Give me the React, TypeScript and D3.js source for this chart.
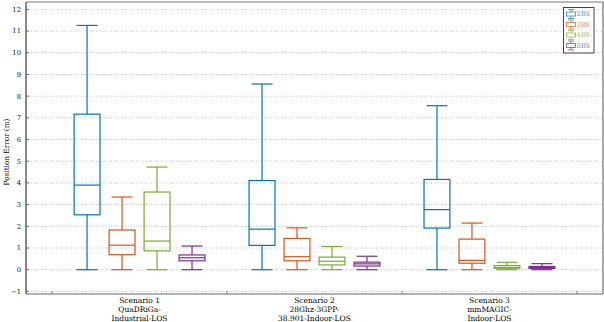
import React from "react";
import * as d3 from "d3";

const W = 604;
const H = 322;

const categoryLines: string[][] = [
  ["Scenario 1", "QuaDRiGa-", "Industrial-LOS"],
  ["Scenario 2", "28Ghz-3GPP-", "38.901-Indoor-LOS"],
  ["Scenario 3", "mmMAGIC-", "Indoor-LOS"],
];
const seriesNames = ["2BS", "3BS", "4BS", "5BS"];
const seriesColors = ["#0072BD", "#D95319", "#77AC30", "#7E2F8E"];

// [lower whisker, q1, median, q3, upper whisker] per scenario
const bs2 = [
  [0, 2.53, 3.9, 7.17, 11.26],
  [0, 1.12, 1.87, 4.11, 8.56],
  [0, 1.92, 2.77, 4.16, 7.56],
];
const bs3 = [
  [0, 0.69, 1.13, 1.83, 3.35],
  [0, 0.41, 0.6, 1.44, 1.93],
  [0, 0.3, 0.43, 1.41, 2.15],
];
const bs4 = [
  [0, 0.87, 1.32, 3.58, 4.73],
  [0, 0.22, 0.39, 0.58, 1.07],
  [0, 0.07, 0.1, 0.19, 0.34],
];
const bs5 = [
  [0, 0.41, 0.55, 0.68, 1.09],
  [0, 0.17, 0.27, 0.35, 0.62],
  [0, 0.06, 0.1, 0.15, 0.28],
];
const seriesData = [bs2, bs3, bs4, bs5];
const yTicks = [-1, 0, 1, 2, 3, 4, 5, 6, 7, 8, 9, 10, 11, 12];
const xTicks = [0.5, 1.5, 2.5, 3.5];

const FONT = "'DejaVu Serif', serif";

export default function App() {
  const left = 26, right = 603, top = 2, bottom = 294;
  const x = d3.scaleLinear().domain([0.351, 3.649]).range([left, right]);
  const y = d3.scaleLinear().domain([-1.12, 12.34]).range([bottom, top]);
  const offsets = [-0.3, -0.1, 0.1, 0.3];
  const boxHalf = 0.074;
  const capHalf = 0.06;
  const sw = 1.2;

  return (
    <svg width={W} height={H} style={{ position: "absolute", left: 0, top: 0, background: "#fff" }}>
      <rect x={0} y={0} width={W} height={H} fill="#fff" />
      {/* grid */}
      {yTicks.map((t) => (
        <line key={"g" + t} x1={left} x2={right} y1={y(t)} y2={y(t)} stroke="#b8b8b8" strokeWidth={0.8} strokeDasharray="1,1.5" />
      ))}
      {/* boxes */}
      {seriesData.map((data, si) =>
        data.map((d, ci) => {
          const cx = x(ci + 1 + offsets[si]);
          const x0 = x(ci + 1 + offsets[si] - boxHalf);
          const x1 = x(ci + 1 + offsets[si] + boxHalf);
          const c0 = x(ci + 1 + offsets[si] - capHalf);
          const c1 = x(ci + 1 + offsets[si] + capHalf);
          const [lo, q1, med, q3, hi] = d;
          const col = seriesColors[si];
          return (
            <g key={si + "-" + ci} stroke={col} strokeWidth={sw} fill="none">
              <line x1={cx} x2={cx} y1={y(hi)} y2={y(q3)} />
              <line x1={cx} x2={cx} y1={y(q1)} y2={y(lo)} />
              <line x1={c0} x2={c1} y1={y(hi)} y2={y(hi)} />
              <line x1={c0} x2={c1} y1={y(lo)} y2={y(lo)} />
              <rect x={x0} y={y(q3)} width={x1 - x0} height={Math.max(0.5, y(q1) - y(q3))} />
              <line x1={x0} x2={x1} y1={y(med)} y2={y(med)} />
            </g>
          );
        })
      )}
      {/* frame */}
      <line x1={left} x2={right} y1={top} y2={top} stroke="#777" strokeWidth={1} />
      <line x1={right} x2={right} y1={top} y2={bottom} stroke="#555" strokeWidth={1} />
      <line x1={left} x2={right} y1={bottom} y2={bottom} stroke="#999" strokeWidth={1.6} />
      <line x1={left} x2={left} y1={top} y2={bottom} stroke="#555" strokeWidth={1.4} />
      {/* y ticks */}
      {yTicks.map((t) => (
        <g key={"yt" + t}>
          <line x1={left} x2={left + 3} y1={y(t)} y2={y(t)} stroke="#555" strokeWidth={0.8} />
          <text x={left - 5} y={y(t) + 2.4} textAnchor="end" fontSize={6.8} fontFamily={FONT} fill="#111">
            {t < 0 ? "\u2212" + Math.abs(t) : String(t)}
          </text>
        </g>
      ))}
      {/* x ticks */}
      {xTicks.map((t) => (
        <line key={"xt" + t} x1={x(t)} x2={x(t)} y1={bottom} y2={bottom - 3} stroke="#666" strokeWidth={0.8} />
      ))}
      {/* category labels */}
      {categoryLines.map((lines, ci) =>
        lines.map((ln, li) => (
          <text key={ci + "-" + li} x={x(ci + 1)} y={302.5 + li * 9.3} textAnchor="middle" fontSize={7.5} fontFamily={FONT} fill="#000">
            {ln}
          </text>
        ))
      )}
      {/* y label */}
      <text transform={`translate(8.5,${(top + bottom) / 2 + 4}) rotate(-90)`} textAnchor="middle" fontSize={7.3} fontFamily={FONT} fill="#000">
        Position Error (m)
      </text>
      {/* legend */}
      <g>
        <rect x={563.5} y={7.5} width={30.5} height={45.5} fill="#fff" stroke="#444" strokeWidth={1} />
        {seriesNames.map((n, i) => {
          const cy = 14 + i * 10.5;
          const col = seriesColors[i];
          return (
            <g key={n}>
              <g stroke={col} strokeWidth={0.9} fill="none" opacity={0.75}>
                <line x1={568} x2={574} y1={cy - 4.5} y2={cy - 4.5} />
                <line x1={571} x2={571} y1={cy - 4.5} y2={cy - 2} />
                <rect x={566.5} y={cy - 2} width={9} height={4} />
                <line x1={571} x2={571} y1={cy + 2} y2={cy + 4.5} />
                <line x1={568} x2={574} y1={cy + 4.5} y2={cy + 4.5} />
              </g>
              <text x={576.5} y={cy + 2.4} fontSize={6.5} fontFamily={FONT} fill={col} opacity={0.75}>
                {n}
              </text>
            </g>
          );
        })}
      </g>
    </svg>
  );
}
